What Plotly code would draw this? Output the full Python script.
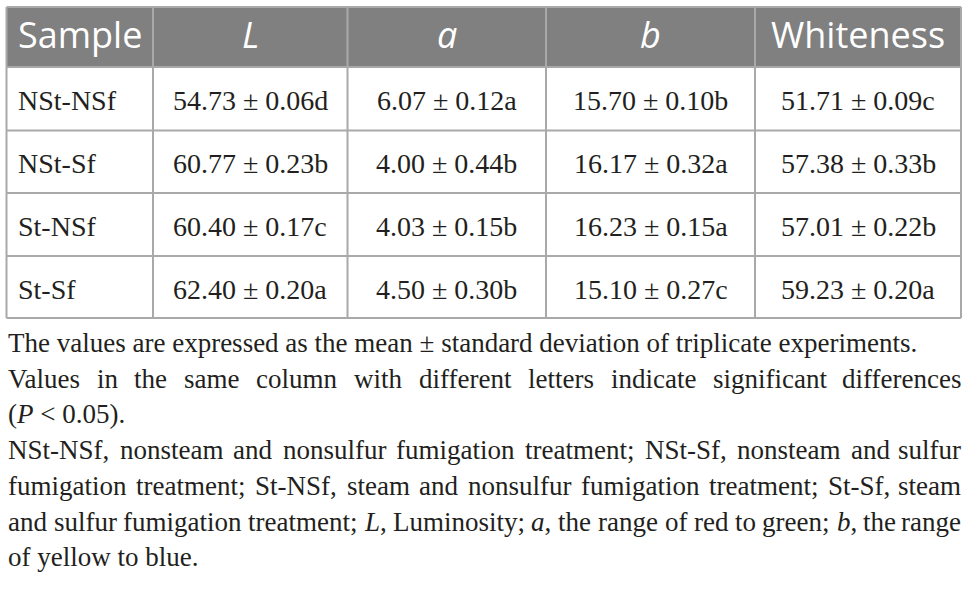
import re
import glob
import plotly.graph_objects as go

# ---------------- data ----------------
samples = ["NSt-NSf", "NSt-Sf", "St-NSf", "St-Sf"]
header_labels = ["Sample", "<i>L</i>", "<i>a</i>", "<i>b</i>", "Whiteness"]

L_mean = [54.73, 60.77, 60.40, 62.40]
L_sd = [0.06, 0.23, 0.17, 0.20]
L_letter = ["d", "b", "c", "a"]

a_mean = [6.07, 4.00, 4.03, 4.50]
a_sd = [0.12, 0.44, 0.15, 0.30]
a_letter = ["a", "b", "b", "b"]

b_mean = [15.70, 16.17, 16.23, 15.10]
b_sd = [0.10, 0.32, 0.15, 0.27]
b_letter = ["b", "a", "a", "c"]

white_mean = [51.71, 57.38, 57.01, 59.23]
white_sd = [0.09, 0.33, 0.22, 0.20]
white_letter = ["c", "b", "b", "a"]

footnote_lines = [
    ("The values are expressed as the mean ± standard deviation of triplicate experiments.", False),
    ("Values in the same column with different letters indicate significant differences", True),
    ("(<i>P</i> &lt; 0.05).", False),
    ("NSt-NSf, nonsteam and nonsulfur fumigation treatment; NSt-Sf, nonsteam and sulfur", True),
    ("fumigation treatment; St-NSf, steam and nonsulfur fumigation treatment; St-Sf, steam", True),
    ("and sulfur fumigation treatment; <i>L</i>, Luminosity; <i>a</i>, the range of red to green; <i>b</i>, the range", True),
    ("of yellow to blue.", False),
]

# ---------------- layout constants ----------------
W, H = 968, 595
col_edges = [6.5, 153, 347.5, 546, 755, 961]
row_edges = [7, 67, 130.5, 193, 256, 318]
HEADER_FILL = "#808080"
GRID = "#a9a9a9"
TEXT = "#231f20"
SERIF = "Liberation Serif, Times New Roman, serif"
SANS = "Open Sans, Noto Sans, sans-serif"
HEAD_SIZE = 36
CELL_SIZE = 28
NOTE_SIZE = 27
NOTE_LEFT, NOTE_RIGHT = 7, 962
NOTE_Y0, NOTE_DY = 343, 35.7

# ---------------- text measuring (for justified footnote) ----------------
_AFM = {
    ' ': 250, '!': 333, '(': 333, ')': 333, ',': 250, '-': 333, '.': 250, ';': 278, '<': 564,
    '0': 500, '1': 500, '2': 500, '3': 500, '4': 500, '5': 500, '6': 500, '7': 500, '8': 500, '9': 500,
    'A': 722, 'B': 667, 'C': 667, 'D': 722, 'E': 611, 'F': 556, 'G': 722, 'H': 722, 'I': 333, 'J': 389,
    'K': 722, 'L': 611, 'M': 889, 'N': 722, 'O': 722, 'P': 556, 'Q': 722, 'R': 667, 'S': 556, 'T': 611,
    'U': 722, 'V': 722, 'W': 944, 'X': 722, 'Y': 722, 'Z': 611,
    'a': 444, 'b': 500, 'c': 444, 'd': 500, 'e': 444, 'f': 333, 'g': 500, 'h': 500, 'i': 278, 'j': 278,
    'k': 500, 'l': 278, 'm': 778, 'n': 500, 'o': 500, 'p': 500, 'q': 500, 'r': 333, 's': 389, 't': 278,
    'u': 500, 'v': 500, 'w': 722, 'x': 500, 'y': 500, 'z': 444, '±': 564,
}
_AFM_I = {'L': 556, 'a': 500, 'b': 500, 'P': 611}

_measure_reg = None
_measure_ita = None
try:
    from PIL import ImageFont
    _r = glob.glob("/usr/share/fonts/**/LiberationSerif-Regular.ttf", recursive=True)
    _i = glob.glob("/usr/share/fonts/**/LiberationSerif-Italic.ttf", recursive=True)
    if _r and _i:
        _fr = ImageFont.truetype(_r[0], 1000)
        _fi = ImageFont.truetype(_i[0], 1000)
        _measure_reg = lambda s: _fr.getlength(s) / 1000.0
        _measure_ita = lambda s: _fi.getlength(s) / 1000.0
except Exception:
    pass

if _measure_reg is None:
    _measure_reg = lambda s: sum(_AFM.get(c, 500) for c in s) / 1000.0
    _measure_ita = lambda s: sum(_AFM_I.get(c, _AFM.get(c, 500)) for c in s) / 1000.0


def text_width(markup, size):
    s = markup.replace("&lt;", "<")
    total = 0.0
    for part in re.split(r"(<i>.*?</i>)", s):
        if not part:
            continue
        if part.startswith("<i>"):
            total += _measure_ita(part[3:-4])
        else:
            total += _measure_reg(part)
    return total * size


# ---------------- figure ----------------
fig = go.Figure()
fig.add_trace(go.Scatter(x=[], y=[], mode="markers", hoverinfo="skip", showlegend=False))

shapes = []
annotations = []

# header background
shapes.append(dict(type="rect", xref="x", yref="y", x0=col_edges[0], x1=col_edges[-1],
                   y0=row_edges[0], y1=row_edges[1], fillcolor=HEADER_FILL, line=dict(width=0), layer="below"))
# grid lines
for yv in row_edges:
    shapes.append(dict(type="line", xref="x", yref="y", x0=col_edges[0], x1=col_edges[-1], y0=yv, y1=yv,
                       line=dict(color=GRID, width=2)))
for xv in col_edges:
    shapes.append(dict(type="line", xref="x", yref="y", x0=xv, x1=xv, y0=row_edges[0], y1=row_edges[-1],
                       line=dict(color=GRID, width=2)))

# header texts
for j, lab in enumerate(header_labels):
    cx = (col_edges[j] + col_edges[j + 1]) / 2
    cy = (row_edges[0] + row_edges[1]) / 2 - 3
    annotations.append(dict(xref="x", yref="y", x=cx, y=cy, text=lab, showarrow=False,
                            xanchor="center", yanchor="middle",
                            font=dict(family=SANS, size=HEAD_SIZE, color="white")))


def fmt(m, s, l):
    return f"{m:.2f} ± {s:.2f}{l}"


columns = [
    [fmt(m, s, l) for m, s, l in zip(L_mean, L_sd, L_letter)],
    [fmt(m, s, l) for m, s, l in zip(a_mean, a_sd, a_letter)],
    [fmt(m, s, l) for m, s, l in zip(b_mean, b_sd, b_letter)],
    [fmt(m, s, l) for m, s, l in zip(white_mean, white_sd, white_letter)],
]

for i, name in enumerate(samples):
    cy = (row_edges[i + 1] + row_edges[i + 2]) / 2 + 2
    annotations.append(dict(xref="x", yref="y", x=col_edges[0] + 9, y=cy, text=name, showarrow=False,
                            xanchor="left", yanchor="middle",
                            font=dict(family=SERIF, size=CELL_SIZE, color=TEXT)))
    for j, col in enumerate(columns):
        cx = (col_edges[j + 1] + col_edges[j + 2]) / 2
        annotations.append(dict(xref="x", yref="y", x=cx, y=cy, text=col[i], showarrow=False,
                                xanchor="center", yanchor="middle",
                                font=dict(family=SERIF, size=CELL_SIZE, color=TEXT)))

# footnotes
for k, (line, justify) in enumerate(footnote_lines):
    y = NOTE_Y0 + k * NOTE_DY
    if not justify:
        annotations.append(dict(xref="x", yref="y", x=NOTE_LEFT, y=y, text=line, showarrow=False,
                                xanchor="left", yanchor="middle", borderpad=0,
                                font=dict(family=SERIF, size=NOTE_SIZE, color=TEXT)))
        continue
    words = line.split(" ")
    widths = [text_width(w, NOTE_SIZE) for w in words]
    gap = (NOTE_RIGHT - NOTE_LEFT - sum(widths)) / (len(words) - 1)
    x = NOTE_LEFT
    for n, (w, wd) in enumerate(zip(words, widths)):
        if n == len(words) - 1:
            annotations.append(dict(xref="x", yref="y", x=NOTE_RIGHT, y=y, text=w, showarrow=False,
                                    xanchor="right", yanchor="middle", borderpad=0,
                                    font=dict(family=SERIF, size=NOTE_SIZE, color=TEXT)))
        else:
            annotations.append(dict(xref="x", yref="y", x=x, y=y, text=w, showarrow=False,
                                    xanchor="left", yanchor="middle", borderpad=0,
                                    font=dict(family=SERIF, size=NOTE_SIZE, color=TEXT)))
        x += wd + gap

fig.update_layout(
    width=W, height=H,
    margin=dict(l=0, r=0, t=0, b=0),
    paper_bgcolor="white", plot_bgcolor="white",
    xaxis=dict(range=[0, W], visible=False, fixedrange=True),
    yaxis=dict(range=[H, 0], visible=False, fixedrange=True),
    shapes=shapes,
    annotations=annotations,
    showlegend=False,
)

fig.write_html(
    "out.html",
    config={"displayModeBar": False},
    post_script="document.body.style.margin='0';document.body.style.padding='0';"
                "document.body.style.overflow='hidden';",
)
